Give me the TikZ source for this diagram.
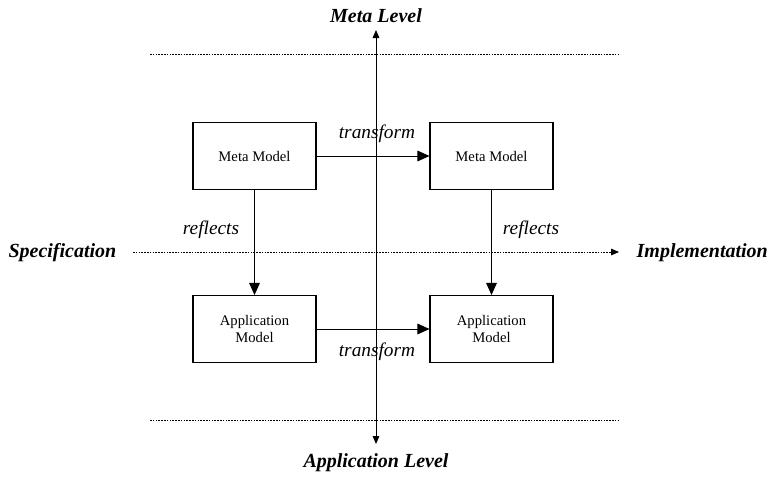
\documentclass[tikz,border=0pt]{standalone}
\usepackage{fontspec}
\setmainfont{Liberation Serif}
\usetikzlibrary{arrows.meta}
\begin{document}
\begin{tikzpicture}[x=0.75pt,y=-0.75pt,
  model/.style={draw,line width=0.8pt,minimum width=123*0.75pt,minimum height=67*0.75pt,
    align=center,font=\fontsize{11}{13}\selectfont,inner sep=0pt},
  axislabel/.style={font=\fontsize{15}{17}\selectfont\bfseries\itshape},
  edgelabel/.style={font=\fontsize{14.5}{16}\selectfont\itshape},
  bigtip/.style={-{Triangle[length=9pt,width=8pt]},line width=0.7pt},
  smalltip/.style={{Triangle[length=6pt,width=5pt]}-{Triangle[length=6pt,width=5pt]},line width=0.6pt},
  guide/.style={dash pattern=on 1.2pt off 0.9pt,line width=0.6pt}]
\useasboundingbox (0,0) rectangle (769,476);

% level boundaries
\coordinate (tl) at (150,54);
\coordinate (tr) at (620,54);
\coordinate (bl) at (150,420);
\coordinate (br) at (620,420);
\draw[guide] (tl) -- (tr);
\draw[guide] (bl) -- (br);

% axis labels
\node[axislabel] (meta) at (376,16) {Meta Level};
\node[axislabel] (app) at (376,463) {Application Level};
\node[axislabel,anchor=east] (spec) at (121,253) {Specification};
\node[axislabel,anchor=west] (impl) at (632,253) {Implementation};

% vertical level axis
\coordinate (vtop) at (376,30);
\coordinate (vbot) at (376,444);
\draw[smalltip] (vbot) -- (vtop);

% horizontal spec/impl axis
\coordinate (hl) at (133,252);
\coordinate (hr) at (619,252);
\draw[guide,-{Triangle[length=6pt,width=5pt]}] (hl) -- (hr);

% model boxes
\node[model] (mm1) at (254.5,156) {Meta Model};
\node[model] (mm2) at (491.5,156) {Meta Model};
\node[model] (am1) at (254.5,329) {Application\\Model};
\node[model] (am2) at (491.5,329) {Application\\Model};

% transformations
\draw[bigtip] (mm1.east) -- (mm2.west);
\draw[bigtip] (am1.east) -- (am2.west);
\node[edgelabel] (t1) at (377,134) {transform};
\node[edgelabel] (t2) at (377,352) {transform};

% reflections
\draw[bigtip] (mm1.south) -- (am1.north);
\draw[bigtip] (mm2.south) -- (am2.north);
\node[edgelabel] (r1) at (211,230) {reflects};
\node[edgelabel] (r2) at (531,230) {reflects};
\end{tikzpicture}
\end{document}
